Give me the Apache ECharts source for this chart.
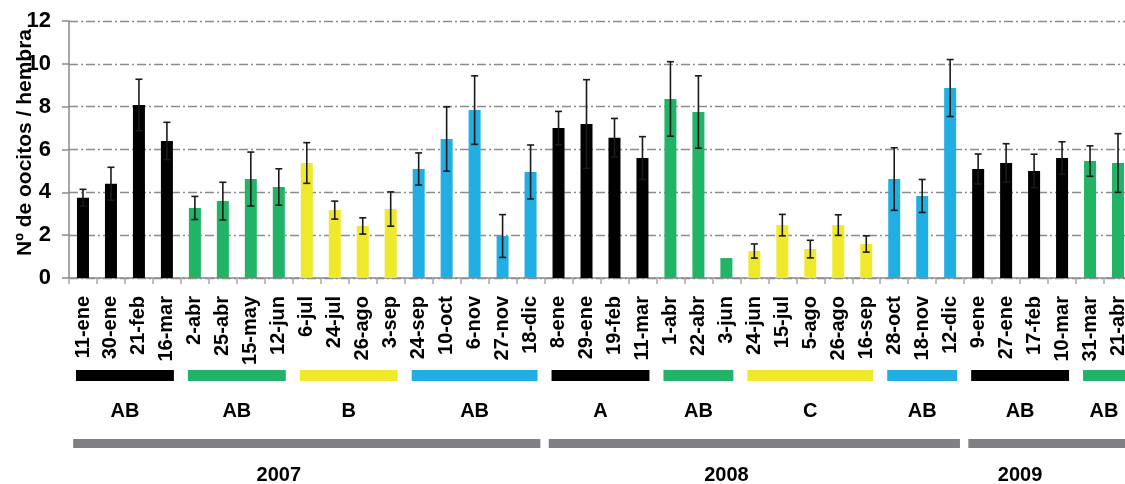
<!DOCTYPE html>
<html>
<head>
<meta charset="utf-8">
<script src="https://cdn.jsdelivr.net/npm/echarts@6/dist/echarts.min.js"></script>
<style>
  html, body { margin: 0; padding: 0; background: #fff; }
  #chart { width: 1125px; height: 484px; }
</style>
</head>
<body>
<div id="chart"></div>
<script>
// Sampling dates (x categories)
const dates = [
  '11-ene','30-ene','21-feb','16-mar','2-abr','25-abr','15-may','12-jun',
  '6-jul','24-jul','26-ago','3-sep','24-sep','10-oct','6-nov','27-nov','18-dic',
  '8-ene','29-ene','19-feb','11-mar','1-abr','22-abr','3-jun',
  '24-jun','15-jul','5-ago','26-ago','16-sep','28-oct','18-nov','12-dic',
  '9-ene','27-ene','17-feb','10-mar','31-mar','21-abr'
];

// Mean number of oocytes per female
const meanOocytes = [
  3.75, 4.40, 8.08, 6.40, 3.27, 3.59, 4.62, 4.25,
  5.37, 3.17, 2.43, 3.22, 5.09, 6.49, 7.84, 1.96, 4.95,
  7.00, 7.19, 6.55, 5.60, 8.36, 7.75, 0.93,
  1.26, 2.47, 1.35, 2.47, 1.59, 4.62, 3.83, 8.87,
  5.09, 5.37, 5.00, 5.60, 5.46, 5.37
];

// Standard error of each mean (null = not shown)
const stdError = [
  0.39, 0.77, 1.20, 0.87, 0.54, 0.88, 1.26, 0.85,
  0.95, 0.42, 0.38, 0.80, 0.75, 1.50, 1.60, 1.00, 1.26,
  0.78, 2.07, 0.90, 1.00, 1.74, 1.69, null,
  0.33, 0.50, 0.41, 0.48, 0.38, 1.46, 0.77, 1.33,
  0.70, 0.90, 0.78, 0.76, 0.71, 1.37
];

// Seasonal groups: first and last date index, season and letter
const groupStart  = [0, 4, 8, 12, 17, 21, 24, 29, 32, 36];
const groupEnd    = [3, 7, 11, 16, 20, 23, 28, 31, 35, 37];
const groupSeason = ['winter','spring','summer','autumn','winter','spring','summer','autumn','winter','spring'];
const groupLetter = ['AB','AB','B','AB','A','AB','C','AB','AB','AB'];

// Years
const yearStart = [0, 17, 32];
const yearEnd   = [16, 31, 37];
const yearLabel = ['2007', '2008', '2009'];

// Y axis ticks
const yTicks = [0, 2, 4, 6, 8, 10, 12];

const seasonColor = {
  winter: '#000000',
  spring: '#21b366',
  summer: '#f0e82a',
  autumn: '#21aee3'
};
const yearBarColor = '#7f7f85';
const FONT = '"Liberation Sans", Arial, Helvetica, sans-serif';

function seasonOf(i) {
  for (let g = 0; g < groupStart.length; g++) {
    if (i >= groupStart[g] && i <= groupEnd[g]) return groupSeason[g];
  }
  return 'winter';
}

const barData = meanOocytes.map((v, i) => ({
  value: v,
  itemStyle: { color: seasonColor[seasonOf(i)] }
}));

const errData = meanOocytes.map((v, i) =>
  stdError[i] == null ? [i, v, v, v] : [i, v - stdError[i], v + stdError[i], v]
);

// Bands below the axis: coloured season bars with their letters, grey year bars with the year
function bandRenderer(starts, ends, kind) {
  return function (params, api) {
    const k = params.dataIndex;
    const s = starts[k], e = ends[k];
    const bw = api.size([1, 0])[0];
    const base = api.coord([0, 0])[1];
    const inset = kind === 'season' ? bw * 0.25 : bw * 0.15;
    const x0 = api.coord([s, 0])[0] - bw / 2 + inset;
    const x1 = api.coord([e, 0])[0] + bw / 2 - inset;
    if (kind === 'season') {
      return {
        type: 'group',
        children: [
          { type: 'rect', shape: { x: x0, y: base + 92, width: x1 - x0, height: 11 },
            style: { fill: seasonColor[groupSeason[k]] } },
          { type: 'text', style: { text: groupLetter[k], x: (x0 + x1) / 2, y: base + 133,
              align: 'center', verticalAlign: 'middle', fill: '#000',
              font: 'bold 20px ' + FONT } }
        ]
      };
    }
    return {
      type: 'group',
      children: [
        { type: 'rect', shape: { x: x0, y: base + 161, width: x1 - x0, height: 9 },
          style: { fill: yearBarColor } },
        { type: 'text', style: { text: yearLabel[k], x: (x0 + x1) / 2 - bw, y: base + 197,
            align: 'center', verticalAlign: 'middle', fill: '#000',
            font: 'bold 20px ' + FONT } }
      ]
    };
  };
}

const chart = echarts.init(document.getElementById('chart'), null, { renderer: 'canvas' });

chart.setOption({
  animation: false,
  backgroundColor: '#ffffff',
  grid: { left: 69, top: 21, width: 1063, height: 257, outerBoundsMode: 'none' },
  xAxis: {
    type: 'category',
    data: dates,
    boundaryGap: true,
    axisLine: { lineStyle: { color: '#8a8a8a', width: 1.5 } },
    axisTick: { show: true, length: 6, lineStyle: { color: '#a8a8a8', width: 1.5 } },
    axisLabel: {
      rotate: 90, interval: 0, margin: 18,
      color: '#000', fontFamily: FONT, fontWeight: 'bold', fontSize: 20
    },
    splitLine: { show: false }
  },
  yAxis: {
    type: 'value',
    min: yTicks[0], max: yTicks[yTicks.length - 1], interval: 2,
    name: 'Nº de oocitos / hembra',
    nameLocation: 'middle',
    nameGap: 33,
    nameRotate: 90,
    nameMoveOverlap: false,
    nameTextStyle: { color: '#000', fontFamily: FONT, fontWeight: 'bold', fontSize: 21, padding: [0, 0, 0, 14] },
    axisLine: { show: true, lineStyle: { color: '#8a8a8a', width: 1.5 } },
    axisTick: { show: true, length: 7, lineStyle: { color: '#8a8a8a', width: 1.5 } },
    axisLabel: {
      margin: 18, color: '#000', fontFamily: FONT, fontWeight: 'bold', fontSize: 22
    },
    splitLine: { show: true, lineStyle: { color: '#8c8c8c', width: 1.4, type: [9, 3, 2, 3] } }
  },
  series: [
    {
      type: 'bar',
      data: barData,
      barWidth: 12,
      z: 2
    },
    {
      type: 'custom',
      data: errData,
      z: 3,
      clip: false,
      renderItem: function (params, api) {
        const i = api.value(0);
        const lo = api.value(1), hi = api.value(2);
        if (lo === hi) return null;
        const pLo = api.coord([i, lo]);
        const pHi = api.coord([i, hi]);
        const cap = 3.5;
        const st = { stroke: '#1a1a1a', lineWidth: 1.6 };
        return {
          type: 'group',
          children: [
            { type: 'line', shape: { x1: pLo[0], y1: pLo[1], x2: pHi[0], y2: pHi[1] }, style: st },
            { type: 'line', shape: { x1: pHi[0] - cap, y1: pHi[1], x2: pHi[0] + cap, y2: pHi[1] }, style: st },
            { type: 'line', shape: { x1: pLo[0] - cap, y1: pLo[1], x2: pLo[0] + cap, y2: pLo[1] }, style: st }
          ]
        };
      }
    },
    {
      type: 'custom',
      data: groupStart.map((s, k) => [s, groupEnd[k]]),
      clip: false,
      silent: true,
      renderItem: bandRenderer(groupStart, groupEnd, 'season')
    },
    {
      type: 'custom',
      data: yearStart.map((s, k) => [s, yearEnd[k]]),
      clip: false,
      silent: true,
      renderItem: bandRenderer(yearStart, yearEnd, 'year')
    }
  ]
});
</script>
</body>
</html>
